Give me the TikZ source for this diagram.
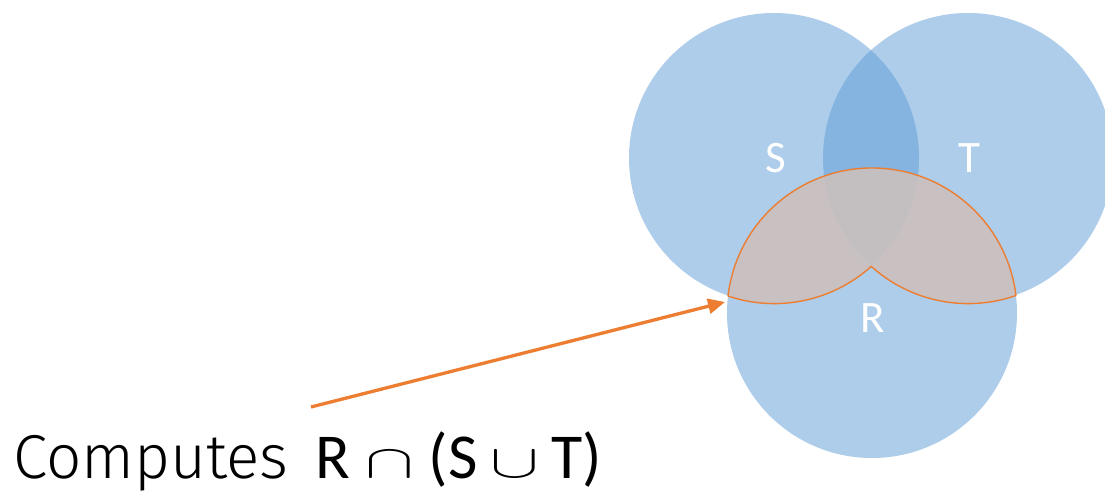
\documentclass[tikz,border=0pt]{standalone}
\usepackage{fontspec}
\setmainfont{Carlito}
\newfontfamily\lightfont{Fira Sans Light}
\usetikzlibrary{arrows.meta}
\definecolor{setblue}{RGB}{91,155,213}
\definecolor{accent}{RGB}{237,125,49}
\definecolor{regionfill}{RGB}{217,196,186}
\newcommand{\bigop}[1]{\scalebox{7.3}[4.7]{\fontsize{10}{12}\selectfont$#1$}}
\begin{document}
\begin{tikzpicture}[x=1pt,y=1pt,
  setcircle/.style={fill=setblue, fill opacity=0.5},
  setlabel/.style={text=white, font=\fontsize{45}{54}\selectfont, inner sep=0pt},
  region/.style={draw=accent, line width=1.4pt, fill=regionfill, fill opacity=0.8, line join=round},
  pointer/.style={draw=accent, line width=3.3pt, -{Triangle[length=17pt,width=15pt]}},
  caption/.style={anchor=base west, inner sep=0pt},
]
\useasboundingbox (0,0) rectangle (1105,490);
\clip (0,0) rectangle (1105,490);
\coordinate (cS) at (774,332);
\coordinate (cT) at (968,332);
\coordinate (cR) at (872,177);
\fill[setcircle] (cS) circle[radius=145];
\fill[setcircle] (cT) circle[radius=145];
\fill[setcircle] (cR) circle[radius=145];
\node[setlabel] (lS) at (776,332) {S};
\node[setlabel] (lT) at (969,332) {T};
\node[setlabel] (lR) at (873,172) {R};
\coordinate (L) at (728.06,194.47);
\draw[region] (L) arc[start angle=173.08,end angle=6.92,radius=145]
  arc[start angle=-70.78,end angle=-131.99,radius=145]
  arc[start angle=-48.01,end angle=-108.47,radius=145] -- cycle;
\coordinate (tail) at (311,83);
\coordinate (tip) at (725,188);
\draw[pointer] (tail) -- (tip);
\node[caption, font=\lightfont\fontsize{62}{74}\selectfont] (computes) at (13,12) {Computes};
\node[caption, font=\fontsize{64}{76}\selectfont] (formula) at (315,12)
  {R\hspace{16pt}\bigop{\cap}\hspace{14pt}(S\hspace{13pt}\bigop{\cup}\hspace{12pt}T)};
\end{tikzpicture}
\end{document}
